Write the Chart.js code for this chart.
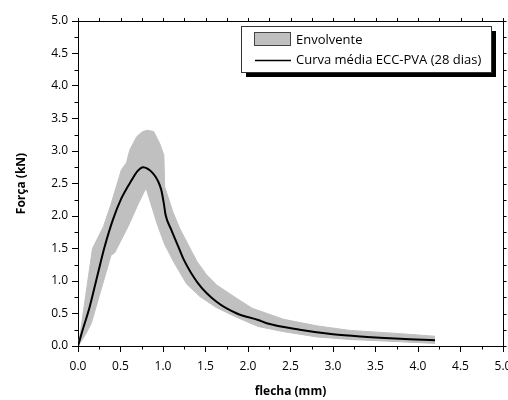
<!DOCTYPE html>
<html>
<head>
<meta charset="utf-8">
<script src="https://cdn.jsdelivr.net/npm/chart.js@4/dist/chart.umd.min.js"></script>
<style>
  html, body { margin: 0; padding: 0; background: #fff; }
  #wrap { width: 508px; height: 400px; position: relative; }
</style>
</head>
<body>
<div id="wrap"><canvas id="c" width="508" height="400"></canvas></div>
<script>
// ---- data ----
const meanX = [0, 0.044, 0.137, 0.235, 0.314, 0.41, 0.51, 0.63, 0.70, 0.765, 0.88, 0.94, 0.98, 1.01, 1.03, 1.10, 1.18, 1.24, 1.415, 1.63, 1.87, 2.12, 2.22, 2.61, 3.0, 3.40, 3.79, 4.2];
const meanY = [0, 0.20, 0.60, 1.12, 1.53, 1.94, 2.27, 2.55, 2.69, 2.75, 2.66, 2.54, 2.40, 2.19, 2.02, 1.78, 1.53, 1.34, 0.96, 0.68, 0.50, 0.40, 0.35, 0.25, 0.18, 0.14, 0.11, 0.09];

const upperX = [0, 0.03, 0.06, 0.17, 0.30, 0.39, 0.51, 0.57, 0.61, 0.69, 0.75, 0.81, 0.89, 0.96, 1.01, 1.02, 1.12, 1.20, 1.28, 1.40, 1.51, 1.63, 1.87, 2.05, 2.42, 2.81, 3.2, 3.79, 4.2];
const upperY = [0, 0.22, 0.50, 1.50, 1.84, 2.19, 2.71, 2.82, 3.02, 3.22, 3.29, 3.32, 3.30, 3.12, 2.94, 2.45, 2.05, 1.80, 1.60, 1.30, 1.10, 0.94, 0.73, 0.58, 0.41, 0.31, 0.24, 0.19, 0.15];

const lowerX = [0, 0.09, 0.157, 0.27, 0.39, 0.43, 0.59, 0.71, 0.80, 0.85, 0.93, 1.02, 1.14, 1.28, 1.435, 1.63, 1.87, 2.12, 2.42, 2.81, 3.2, 3.79, 4.2];
const lowerY = [0, 0.18, 0.35, 0.86, 1.40, 1.43, 1.84, 2.19, 2.43, 2.22, 1.88, 1.56, 1.26, 0.95, 0.76, 0.59, 0.44, 0.30, 0.22, 0.14, 0.10, 0.066, 0.04];

const seriesNames = ['Envolvente', 'Curva média ECC-PVA (28 dias)'];
const xTitle = 'flecha (mm)';
const yTitle = 'Força (kN)';
const axisMin = 0, axisMax = 5, majorStep = 0.5, minorStep = 0.25;

const toPts = (xs, ys) => xs.map((x, i) => ({x: x, y: ys[i]}));

const FONT = '"Open Sans", "DejaVu Sans", sans-serif';
const GREY = '#c0c0c0';

const frameTicks = {
  id: 'frameTicks',
  afterDraw(chart) {
    const {ctx, chartArea: a, scales: {x, y}} = chart;
    ctx.save();
    ctx.strokeStyle = '#000';
    ctx.lineWidth = 1;
    ctx.beginPath();
    // top and right frame
    ctx.moveTo(a.left, a.top + 0.5); ctx.lineTo(a.right + 0.5, a.top + 0.5);
    ctx.moveTo(a.right + 0.5, a.top); ctx.lineTo(a.right + 0.5, a.bottom);
    for (let v = axisMin; v <= axisMax + 1e-9; v += minorStep) {
      const px = Math.round(x.getPixelForValue(v)) + 0.5;
      const py = Math.round(y.getPixelForValue(v)) + 0.5;
      const isMajor = Math.abs(v / majorStep - Math.round(v / majorStep)) < 1e-6;
      if (!isMajor) {
        ctx.moveTo(px, a.bottom); ctx.lineTo(px, a.bottom + 3.5);
        ctx.moveTo(a.left, py); ctx.lineTo(a.left - 3.5, py);
      }
      ctx.moveTo(px, a.top); ctx.lineTo(px, a.top - 3);
      ctx.moveTo(a.right, py); ctx.lineTo(a.right + 3.5, py);
    }
    ctx.stroke();

    // legend
    const bx = 241.5, by = 26.5, bw = 250, bh = 46;
    ctx.fillStyle = '#000';
    ctx.fillRect(bx + 4.5, by + 4.5, bw, bh);
    ctx.fillStyle = '#fff';
    ctx.fillRect(bx, by, bw, bh);
    ctx.strokeStyle = '#333';
    ctx.strokeRect(bx, by, bw, bh);
    ctx.fillStyle = GREY;
    ctx.fillRect(254.5, 32.5, 36, 13);
    ctx.strokeStyle = '#444';
    ctx.strokeRect(254.5, 32.5, 36, 13);
    ctx.strokeStyle = '#000';
    ctx.lineWidth = 1.5;
    ctx.beginPath();
    ctx.moveTo(255, 60.5); ctx.lineTo(291, 60.5);
    ctx.stroke();
    ctx.fillStyle = '#000';
    ctx.font = '13px ' + FONT;
    ctx.textBaseline = 'middle';
    ctx.textAlign = 'left';
    ctx.fillText(seriesNames[0], 296, 40);
    ctx.fillText(seriesNames[1], 296, 60);
    ctx.restore();
  }
};

new Chart(document.getElementById('c'), {
  type: 'line',
  data: {
    datasets: [
      {
        label: seriesNames[1],
        data: toPts(meanX, meanY),
        borderColor: '#000',
        borderWidth: 2,
        pointRadius: 0,
        cubicInterpolationMode: 'monotone',
        fill: false,
        order: 0
      },
      {
        label: seriesNames[0] + ' sup',
        data: toPts(upperX, upperY),
        borderColor: GREY,
        borderWidth: 1,
        pointRadius: 0,
        tension: 0,
        backgroundColor: GREY,
        fill: {target: 2},
        order: 1
      },
      {
        label: seriesNames[0] + ' inf',
        data: toPts(lowerX, lowerY),
        borderColor: GREY,
        borderWidth: 1,
        pointRadius: 0,
        tension: 0,
        fill: false,
        order: 2
      }
    ]
  },
  options: {
    responsive: false,
    animation: false,
    layout: { padding: { top: 21, right: 5, bottom: 0, left: 0 } },
    plugins: { legend: { display: false }, tooltip: { enabled: false } },
    scales: {
      x: {
        type: 'linear',
        min: axisMin, max: axisMax,
        afterFit(s) { s.height = 54; s.paddingLeft = 0; s.paddingRight = 0; },
        ticks: {
          stepSize: majorStep, autoSkip: false, maxRotation: 0,
          color: '#000', padding: 7,
          font: { family: FONT, size: 12 },
          callback: v => Number(v).toFixed(1)
        },
        grid: { drawOnChartArea: false, drawTicks: true, tickLength: 6, tickColor: '#000', color: '#000' },
        border: { display: true, color: '#000', width: 1 },
        title: { display: true, text: xTitle, color: '#000', font: { family: FONT, size: 12, weight: 'bold' }, padding: { top: 0, bottom: 1 } }
      },
      y: {
        type: 'linear',
        min: axisMin, max: axisMax,
        afterFit(s) { s.width = 78; s.paddingTop = 0; s.paddingBottom = 0; },
        ticks: {
          stepSize: majorStep, autoSkip: false,
          color: '#000', padding: 4,
          font: { family: FONT, size: 12 },
          callback: v => Number(v).toFixed(1)
        },
        grid: { drawOnChartArea: false, drawTicks: true, tickLength: 6, tickColor: '#000', color: '#000' },
        border: { display: true, color: '#000', width: 1 },
        title: { display: true, text: yTitle, color: '#000', font: { family: FONT, size: 12, weight: 'bold' }, padding: { top: 14, bottom: 0 } }
      }
    }
  },
  plugins: [frameTicks]
});
</script>
</body>
</html>
